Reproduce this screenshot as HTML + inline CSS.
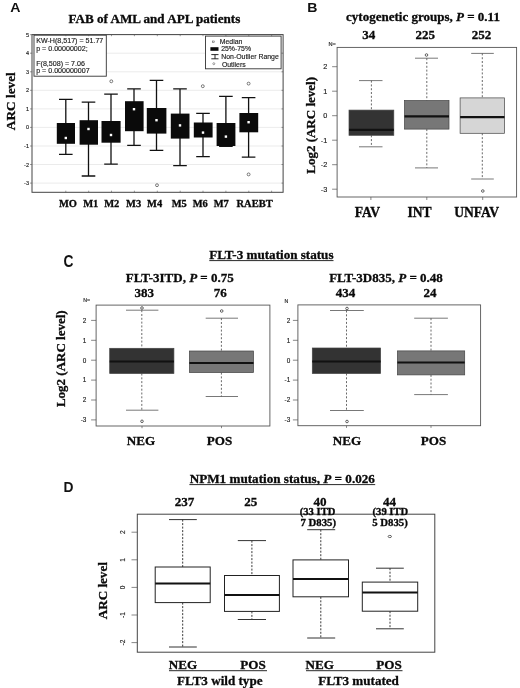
<!DOCTYPE html>
<html><head><meta charset="utf-8"><title>Figure</title>
<style>
html,body{margin:0;padding:0;background:#fff;}
svg{display:block;filter:blur(0.35px)}
.s{font-family:"Liberation Serif",serif;font-weight:bold;fill:#0a0a0a;stroke:#0a0a0a;stroke-width:0.3px}
.a{font-family:"Liberation Sans",sans-serif;fill:#1c1c1c;stroke:#1c1c1c;stroke-width:0.15px}
.ab{font-family:"Liberation Sans",sans-serif;font-weight:bold;fill:#111}
</style></head><body>
<svg width="520" height="688" viewBox="0 0 520 688">
<rect width="520" height="688" fill="#fff"/>

<g id="panelA">
<text class="ab" transform="translate(10.3,11.9) scale(1.15,1)" font-size="12.3">A</text>
<text class="s" x="154.4" y="23.2" font-size="13.1" text-anchor="middle">FAB of AML and APL patients</text>
<text class="s" transform="translate(14.8,101.2) rotate(-90)" font-size="13.3" text-anchor="middle">ARC level</text>
<line x1="32" x2="283.1" y1="183.1" y2="183.1" stroke="#ddd" stroke-width="0.6"/>
<line x1="32" x2="283.1" y1="164.5" y2="164.5" stroke="#ddd" stroke-width="0.6"/>
<line x1="32" x2="283.1" y1="146.0" y2="146.0" stroke="#ddd" stroke-width="0.6"/>
<line x1="32" x2="283.1" y1="127.4" y2="127.4" stroke="#ddd" stroke-width="0.6"/>
<line x1="32" x2="283.1" y1="108.9" y2="108.9" stroke="#ddd" stroke-width="0.6"/>
<line x1="32" x2="283.1" y1="90.3" y2="90.3" stroke="#ddd" stroke-width="0.6"/>
<line x1="32" x2="283.1" y1="71.8" y2="71.8" stroke="#ddd" stroke-width="0.6"/>
<line x1="32" x2="283.1" y1="53.2" y2="53.2" stroke="#ddd" stroke-width="0.6"/>
<line x1="32" x2="283.1" y1="34.7" y2="34.7" stroke="#ddd" stroke-width="0.6"/>
<rect x="32" y="34.6" width="251.10000000000002" height="157.70000000000002" fill="none" stroke="#444" stroke-width="1"/>
<line x1="30" x2="32" y1="183.1" y2="183.1" stroke="#555" stroke-width="0.6"/>
<text class="a" x="29" y="185.1" font-size="5.5" text-anchor="end">-3</text>
<line x1="30" x2="32" y1="164.5" y2="164.5" stroke="#555" stroke-width="0.6"/>
<text class="a" x="29" y="166.5" font-size="5.5" text-anchor="end">-2</text>
<line x1="30" x2="32" y1="146.0" y2="146.0" stroke="#555" stroke-width="0.6"/>
<text class="a" x="29" y="148.0" font-size="5.5" text-anchor="end">-1</text>
<line x1="30" x2="32" y1="127.4" y2="127.4" stroke="#555" stroke-width="0.6"/>
<text class="a" x="29" y="129.4" font-size="5.5" text-anchor="end">0</text>
<line x1="30" x2="32" y1="108.9" y2="108.9" stroke="#555" stroke-width="0.6"/>
<text class="a" x="29" y="110.9" font-size="5.5" text-anchor="end">1</text>
<line x1="30" x2="32" y1="90.3" y2="90.3" stroke="#555" stroke-width="0.6"/>
<text class="a" x="29" y="92.3" font-size="5.5" text-anchor="end">2</text>
<line x1="30" x2="32" y1="71.8" y2="71.8" stroke="#555" stroke-width="0.6"/>
<text class="a" x="29" y="73.8" font-size="5.5" text-anchor="end">3</text>
<line x1="30" x2="32" y1="53.2" y2="53.2" stroke="#555" stroke-width="0.6"/>
<text class="a" x="29" y="55.2" font-size="5.5" text-anchor="end">4</text>
<line x1="30" x2="32" y1="34.7" y2="34.7" stroke="#555" stroke-width="0.6"/>
<text class="a" x="29" y="36.7" font-size="5.5" text-anchor="end">5</text>
<path d="M65.8 99.4V154.4M59.0 99.4H72.6M59.0 154.4H72.6" stroke="#111" stroke-width="1.3" fill="none"/>
<rect x="56.8" y="123" width="18.2" height="20.8" fill="#0a0a0a"/>
<rect x="64.6" y="136.8" width="2.4" height="2.4" fill="#fff"/>
<path d="M88.5 102.2V176.0M81.7 102.2H95.3M81.7 176.0H95.3" stroke="#111" stroke-width="1.3" fill="none"/>
<rect x="79.6" y="120.2" width="18.4" height="24.5" fill="#0a0a0a"/>
<rect x="87.3" y="127.8" width="2.4" height="2.4" fill="#fff"/>
<path d="M111 94.10000000000001V164.1M104.2 94.10000000000001H117.8M104.2 164.1H117.8" stroke="#111" stroke-width="1.3" fill="none"/>
<rect x="101.5" y="121" width="19.1" height="21.7" fill="#0a0a0a"/>
<rect x="109.8" y="133.8" width="2.4" height="2.4" fill="#fff"/>
<circle cx="111.3" cy="81.3" r="1.45" fill="#fff" stroke="#444" stroke-width="0.7"/>
<path d="M134 88.9V145.4M127.2 88.9H140.8M127.2 145.4H140.8" stroke="#111" stroke-width="1.3" fill="none"/>
<rect x="125" y="101.2" width="18.6" height="30.0" fill="#0a0a0a"/>
<rect x="132.8" y="108.0" width="2.4" height="2.4" fill="#fff"/>
<path d="M156.5 80.4V150.4M149.7 80.4H163.3M149.7 150.4H163.3" stroke="#111" stroke-width="1.3" fill="none"/>
<rect x="146.8" y="108" width="19.6" height="25.6" fill="#0a0a0a"/>
<rect x="155.3" y="119.0" width="2.4" height="2.4" fill="#fff"/>
<circle cx="157" cy="185.2" r="1.45" fill="#fff" stroke="#444" stroke-width="0.7"/>
<path d="M180 88.9V165.6M173.2 88.9H186.8M173.2 165.6H186.8" stroke="#111" stroke-width="1.3" fill="none"/>
<rect x="170.8" y="113.6" width="18.7" height="25.0" fill="#0a0a0a"/>
<rect x="178.8" y="124.2" width="2.4" height="2.4" fill="#fff"/>
<path d="M203 113.4V156.6M196.2 113.4H209.8M196.2 156.6H209.8" stroke="#111" stroke-width="1.3" fill="none"/>
<rect x="193.8" y="122.5" width="18.8" height="15.0" fill="#0a0a0a"/>
<rect x="201.8" y="131.4" width="2.4" height="2.4" fill="#fff"/>
<circle cx="202.8" cy="86.2" r="1.45" fill="#fff" stroke="#444" stroke-width="0.7"/>
<path d="M225.9 96.4V146.4M219.1 96.4H232.70000000000002M219.1 146.4H232.70000000000002" stroke="#111" stroke-width="1.3" fill="none"/>
<rect x="216.6" y="123" width="18.8" height="23.0" fill="#0a0a0a"/>
<rect x="224.70000000000002" y="135.4" width="2.4" height="2.4" fill="#fff"/>
<path d="M248.6 97.60000000000001V157.20000000000002M241.79999999999998 97.60000000000001H255.4M241.79999999999998 157.20000000000002H255.4" stroke="#111" stroke-width="1.3" fill="none"/>
<rect x="239.4" y="113" width="18.8" height="19.3" fill="#0a0a0a"/>
<rect x="247.4" y="121.0" width="2.4" height="2.4" fill="#fff"/>
<circle cx="248.6" cy="83.6" r="1.45" fill="#fff" stroke="#444" stroke-width="0.7"/>
<circle cx="248.6" cy="174.4" r="1.45" fill="#fff" stroke="#444" stroke-width="0.7"/>
<text class="s" x="68" y="206.5" font-size="10.5" text-anchor="middle">MO</text>
<text class="s" x="90.8" y="206.5" font-size="10.5" text-anchor="middle">M1</text>
<text class="s" x="111.8" y="206.5" font-size="10.5" text-anchor="middle">M2</text>
<text class="s" x="133.6" y="206.5" font-size="10.5" text-anchor="middle">M3</text>
<text class="s" x="154.6" y="206.5" font-size="10.5" text-anchor="middle">M4</text>
<text class="s" x="179.3" y="206.5" font-size="10.5" text-anchor="middle">M5</text>
<text class="s" x="200.3" y="206.5" font-size="10.5" text-anchor="middle">M6</text>
<text class="s" x="221.3" y="206.5" font-size="10.5" text-anchor="middle">M7</text>
<text class="s" x="254.6" y="206.5" font-size="10.5" text-anchor="middle">RAEBT</text>
<rect x="34" y="35.2" width="72.3" height="41" fill="#fff" stroke="#333" stroke-width="0.9"/>
<text class="a" x="36.2" y="43.2" font-size="7.1">KW-H(8,517) = 51.77</text>
<text class="a" x="36.2" y="51.4" font-size="7.1">p = 0.00000002;</text>
<text class="a" x="36.2" y="66.4" font-size="7.1">F(8,508) = 7.06</text>
<text class="a" x="36.2" y="73.3" font-size="7.1">p = 0.000000007</text>
<rect x="205.5" y="36.1" width="75.6" height="32.7" fill="#fff" stroke="#333" stroke-width="0.9"/>
<rect x="212.5" y="41" width="1.7" height="1.7" fill="#fff" stroke="#444" stroke-width="0.5"/>
<rect x="210.4" y="47.2" width="8.1" height="3.6" fill="#0a0a0a"/>
<path d="M215 54.6V58.8M211.3 54.6H218.5M211.3 58.8H218.5" stroke="#111" stroke-width="0.9" fill="none"/>
<circle cx="213.8" cy="63.7" r="1" fill="#fff" stroke="#444" stroke-width="0.5"/>
<text class="a" x="219.8" y="43.9" font-size="6.9">Median</text>
<text class="a" x="221.2" y="51.2" font-size="6.9">25%-75%</text>
<text class="a" x="221.3" y="59.3" font-size="6.9">Non-Outlier Range</text>
<text class="a" x="221.9" y="66.6" font-size="6.9">Outliers</text>
<path d="M65.8 34.6v1.6M65.8 192.3v-1.6" stroke="#555" stroke-width="0.6"/>
<path d="M88.7 34.6v1.6M88.7 192.3v-1.6" stroke="#555" stroke-width="0.6"/>
<path d="M111.5 34.6v1.6M111.5 192.3v-1.6" stroke="#555" stroke-width="0.6"/>
<path d="M134.4 34.6v1.6M134.4 192.3v-1.6" stroke="#555" stroke-width="0.6"/>
<path d="M157.3 34.6v1.6M157.3 192.3v-1.6" stroke="#555" stroke-width="0.6"/>
<path d="M180.2 34.6v1.6M180.2 192.3v-1.6" stroke="#555" stroke-width="0.6"/>
<path d="M203.0 34.6v1.6M203.0 192.3v-1.6" stroke="#555" stroke-width="0.6"/>
<path d="M225.9 34.6v1.6M225.9 192.3v-1.6" stroke="#555" stroke-width="0.6"/>
<path d="M248.8 34.6v1.6M248.8 192.3v-1.6" stroke="#555" stroke-width="0.6"/>
<path d="M271.6 34.6v1.6M271.6 192.3v-1.6" stroke="#555" stroke-width="0.6"/>
<line x1="281.5" x2="283.1" y1="183.1" y2="183.1" stroke="#555" stroke-width="0.6"/>
<line x1="281.5" x2="283.1" y1="164.5" y2="164.5" stroke="#555" stroke-width="0.6"/>
<line x1="281.5" x2="283.1" y1="146.0" y2="146.0" stroke="#555" stroke-width="0.6"/>
<line x1="281.5" x2="283.1" y1="127.4" y2="127.4" stroke="#555" stroke-width="0.6"/>
<line x1="281.5" x2="283.1" y1="108.9" y2="108.9" stroke="#555" stroke-width="0.6"/>
<line x1="281.5" x2="283.1" y1="90.3" y2="90.3" stroke="#555" stroke-width="0.6"/>
<line x1="281.5" x2="283.1" y1="71.8" y2="71.8" stroke="#555" stroke-width="0.6"/>
<line x1="281.5" x2="283.1" y1="53.2" y2="53.2" stroke="#555" stroke-width="0.6"/>
</g>
<g id="panelB">
<text class="ab" transform="translate(307.2,11.6) scale(1.13,1)" font-size="12.5">B</text>
<text class="s" x="423" y="21.2" font-size="13" text-anchor="middle">cytogenetic groups, <tspan font-style="italic">P</tspan> = 0.11</text>
<text class="s" x="368.8" y="39.4" font-size="13" text-anchor="middle">34</text>
<text class="s" x="425.3" y="39.4" font-size="13" text-anchor="middle">225</text>
<text class="s" x="481.4" y="39.4" font-size="13" text-anchor="middle">252</text>
<text class="a" x="328.4" y="45.6" font-size="5.6" fill="#333">N=</text>
<text class="s" transform="translate(315.3,125.4) rotate(-90)" font-size="13" text-anchor="middle">Log2 (ARC level)</text>
<rect x="337.1" y="47.4" width="179.5" height="149.6" fill="#fff" stroke="#555" stroke-width="0.9"/>
<line x1="332.1" x2="337.1" y1="189.2" y2="189.2" stroke="#555" stroke-width="0.7"/>
<text class="a" x="327.3" y="191.8" font-size="7.3" text-anchor="end">-3</text>
<line x1="332.1" x2="337.1" y1="164.7" y2="164.7" stroke="#555" stroke-width="0.7"/>
<text class="a" x="327.3" y="167.3" font-size="7.3" text-anchor="end">-2</text>
<line x1="332.1" x2="337.1" y1="140.2" y2="140.2" stroke="#555" stroke-width="0.7"/>
<text class="a" x="327.3" y="142.8" font-size="7.3" text-anchor="end">-1</text>
<line x1="332.1" x2="337.1" y1="115.7" y2="115.7" stroke="#555" stroke-width="0.7"/>
<text class="a" x="327.3" y="118.3" font-size="7.3" text-anchor="end">0</text>
<line x1="332.1" x2="337.1" y1="91.2" y2="91.2" stroke="#555" stroke-width="0.7"/>
<text class="a" x="327.3" y="93.8" font-size="7.3" text-anchor="end">1</text>
<line x1="332.1" x2="337.1" y1="66.7" y2="66.7" stroke="#555" stroke-width="0.7"/>
<text class="a" x="327.3" y="69.3" font-size="7.3" text-anchor="end">2</text>
<path d="M371.4 80.6V110.1M371.4 135.3V146.8" stroke="#444" stroke-width="0.8" stroke-dasharray="2 1.8" fill="none"/><path d="M359 80.6H382.5M359 146.8H382.5" stroke="#555" stroke-width="0.8" fill="none"/><rect x="349" y="110.1" width="44.8" height="25.2" fill="#333" stroke="#444" stroke-width="0.7"/><line x1="349" x2="393.8" y1="129.9" y2="129.9" stroke="#111" stroke-width="2.3"/>
<path d="M426.8 58.2V100.5M426.8 129.1V167.9" stroke="#444" stroke-width="0.8" stroke-dasharray="2 1.8" fill="none"/><path d="M415 58.2H438M415 167.9H438" stroke="#555" stroke-width="0.8" fill="none"/><rect x="404.5" y="100.5" width="44.5" height="28.6" fill="#777" stroke="#444" stroke-width="0.7"/><line x1="404.5" x2="449" y1="116.3" y2="116.3" stroke="#111" stroke-width="2.3"/><ellipse cx="426.5" cy="55" rx="1.3" ry="1.3" fill="#fff" stroke="#333" stroke-width="0.75"/>
<path d="M482.3 53.4V97.9M482.3 133.3V179" stroke="#444" stroke-width="0.8" stroke-dasharray="2 1.8" fill="none"/><path d="M471.2 53.4H493.8M471.2 179H493.8" stroke="#555" stroke-width="0.8" fill="none"/><rect x="460.1" y="97.9" width="44.4" height="35.4" fill="#d6d6d6" stroke="#444" stroke-width="0.7"/><line x1="460.1" x2="504.5" y1="117.2" y2="117.2" stroke="#111" stroke-width="2.3"/><ellipse cx="482.8" cy="191" rx="1.3" ry="1.3" fill="#fff" stroke="#333" stroke-width="0.75"/>
<path d="M370.9 197v3M426.8 197v3M482.7 197v3" stroke="#555" stroke-width="0.7"/>
<text class="s" x="367.4" y="217.2" font-size="13.6" text-anchor="middle">FAV</text>
<text class="s" x="419.6" y="217.2" font-size="13.6" text-anchor="middle">INT</text>
<text class="s" x="476.6" y="217.2" font-size="13.6" text-anchor="middle">UNFAV</text>
</g>
<g id="panelC">
<text class="ab" transform="translate(63.5,266.8) scale(1,1.14)" font-size="13.8">C</text>
<text class="s" x="271.4" y="259" font-size="13.1" text-anchor="middle">FLT-3 mutation status</text>
<line x1="209.3" x2="333.5" y1="260.6" y2="260.6" stroke="#111" stroke-width="0.9"/>
<text class="s" x="179.8" y="281.7" font-size="13" text-anchor="middle">FLT-3ITD, <tspan font-style="italic">P</tspan> = 0.75</text>
<text class="s" x="144.2" y="296.9" font-size="13" text-anchor="middle">383</text>
<text class="s" x="220.3" y="296.9" font-size="13" text-anchor="middle">76</text>
<text class="a" x="83.2" y="302.3" font-size="5.3" fill="#333">N=</text>
<text class="s" transform="translate(64.5,358.7) rotate(-90)" font-size="13" text-anchor="middle">Log2 (ARC level)</text>
<rect x="96.1" y="305.1" width="173.8" height="120.9" fill="#fff" stroke="#555" stroke-width="0.9"/>
<line x1="91.1" x2="96.1" y1="419.9" y2="419.9" stroke="#555" stroke-width="0.7"/>
<text class="a" x="86.39999999999999" y="422.2" font-size="6.4" text-anchor="end">-3</text>
<line x1="91.1" x2="96.1" y1="400.0" y2="400.0" stroke="#555" stroke-width="0.7"/>
<text class="a" x="86.39999999999999" y="402.3" font-size="6.4" text-anchor="end">2</text>
<line x1="91.1" x2="96.1" y1="380.1" y2="380.1" stroke="#555" stroke-width="0.7"/>
<text class="a" x="86.39999999999999" y="382.4" font-size="6.4" text-anchor="end">1</text>
<line x1="91.1" x2="96.1" y1="360.2" y2="360.2" stroke="#555" stroke-width="0.7"/>
<text class="a" x="86.39999999999999" y="362.5" font-size="6.4" text-anchor="end">0</text>
<line x1="91.1" x2="96.1" y1="340.3" y2="340.3" stroke="#555" stroke-width="0.7"/>
<text class="a" x="86.39999999999999" y="342.6" font-size="6.4" text-anchor="end">1</text>
<line x1="91.1" x2="96.1" y1="320.4" y2="320.4" stroke="#555" stroke-width="0.7"/>
<text class="a" x="86.39999999999999" y="322.7" font-size="6.4" text-anchor="end">2</text>
<path d="M141.8 310.2V348.3M141.8 373.5V410.2" stroke="#444" stroke-width="0.8" stroke-dasharray="2 1.8" fill="none"/><path d="M126 310.2H158.4M126 410.2H158.4" stroke="#555" stroke-width="0.8" fill="none"/><rect x="109.7" y="348.3" width="64.2" height="25.2" fill="#333" stroke="#444" stroke-width="0.7"/><line x1="109.7" x2="173.9" y1="361.5" y2="361.5" stroke="#111" stroke-width="2"/><ellipse cx="142" cy="308" rx="1.3" ry="1.3" fill="#fff" stroke="#333" stroke-width="0.75"/><ellipse cx="142" cy="421.3" rx="1.3" ry="1.3" fill="#fff" stroke="#333" stroke-width="0.75"/>
<path d="M221.4 318.2V351M221.4 372.6V396.5" stroke="#444" stroke-width="0.8" stroke-dasharray="2 1.8" fill="none"/><path d="M205.7 318.2H238M205.7 396.5H238" stroke="#555" stroke-width="0.8" fill="none"/><rect x="189.4" y="351" width="64.1" height="21.6" fill="#777" stroke="#444" stroke-width="0.7"/><line x1="189.4" x2="253.5" y1="362.9" y2="362.9" stroke="#111" stroke-width="2"/><ellipse cx="221.7" cy="311" rx="1.3" ry="1.3" fill="#fff" stroke="#333" stroke-width="0.75"/>
<path d="M142 426v2.2M221.5 426v2.2" stroke="#555" stroke-width="0.7"/>
<text class="s" x="140.9" y="444.5" font-size="13.1" text-anchor="middle">NEG</text>
<text class="s" x="219.6" y="444.5" font-size="13.1" text-anchor="middle">POS</text>
<text class="s" x="386" y="281.5" font-size="13" text-anchor="middle">FLT-3D835, <tspan font-style="italic">P</tspan> = 0.48</text>
<text class="s" x="345.5" y="297.3" font-size="13" text-anchor="middle">434</text>
<text class="s" x="430" y="297.3" font-size="13" text-anchor="middle">24</text>
<text class="a" x="284.5" y="302.8" font-size="5.3" fill="#333">N</text>
<rect x="297.9" y="304.9" width="182.7" height="120.8" fill="#fff" stroke="#555" stroke-width="0.9"/>
<line x1="292.9" x2="297.9" y1="419.9" y2="419.9" stroke="#555" stroke-width="0.7"/>
<text class="a" x="290.2" y="422.2" font-size="6.4" text-anchor="end">-3</text>
<line x1="292.9" x2="297.9" y1="400.0" y2="400.0" stroke="#555" stroke-width="0.7"/>
<text class="a" x="290.2" y="402.3" font-size="6.4" text-anchor="end">-2</text>
<line x1="292.9" x2="297.9" y1="380.1" y2="380.1" stroke="#555" stroke-width="0.7"/>
<text class="a" x="290.2" y="382.4" font-size="6.4" text-anchor="end">-1</text>
<line x1="292.9" x2="297.9" y1="360.2" y2="360.2" stroke="#555" stroke-width="0.7"/>
<text class="a" x="290.2" y="362.5" font-size="6.4" text-anchor="end">0</text>
<line x1="292.9" x2="297.9" y1="340.3" y2="340.3" stroke="#555" stroke-width="0.7"/>
<text class="a" x="290.2" y="342.6" font-size="6.4" text-anchor="end">1</text>
<line x1="292.9" x2="297.9" y1="320.4" y2="320.4" stroke="#555" stroke-width="0.7"/>
<text class="a" x="290.2" y="322.7" font-size="6.4" text-anchor="end">2</text>
<path d="M346.5 310.5V348M346.5 373.5V410.5" stroke="#444" stroke-width="0.8" stroke-dasharray="2 1.8" fill="none"/><path d="M330 310.5H363.8M330 410.5H363.8" stroke="#555" stroke-width="0.8" fill="none"/><rect x="312.3" y="348" width="68.3" height="25.5" fill="#333" stroke="#444" stroke-width="0.7"/><line x1="312.3" x2="380.6" y1="361.4" y2="361.4" stroke="#111" stroke-width="2"/><ellipse cx="347" cy="308.5" rx="1.3" ry="1.3" fill="#fff" stroke="#333" stroke-width="0.75"/><ellipse cx="347" cy="421.5" rx="1.3" ry="1.3" fill="#fff" stroke="#333" stroke-width="0.75"/>
<path d="M431.0 318.2V350.9M431.0 374.9V394.6" stroke="#444" stroke-width="0.8" stroke-dasharray="2 1.8" fill="none"/><path d="M414.2 318.2H447.9M414.2 394.6H447.9" stroke="#555" stroke-width="0.8" fill="none"/><rect x="397.4" y="350.9" width="67.3" height="24.0" fill="#777" stroke="#444" stroke-width="0.7"/><line x1="397.4" x2="464.7" y1="362.4" y2="362.4" stroke="#111" stroke-width="2"/>
<path d="M346.5 425.7v2.2M431 425.7v2.2" stroke="#555" stroke-width="0.7"/>
<text class="s" x="347" y="444.5" font-size="13.1" text-anchor="middle">NEG</text>
<text class="s" x="433.5" y="444.5" font-size="13.1" text-anchor="middle">POS</text>
</g>
<g id="panelD">
<text class="ab" transform="translate(63.4,492.4) scale(1,1.06)" font-size="13.8">D</text>
<text class="s" x="282.3" y="483.3" font-size="13.15" text-anchor="middle">NPM1 mutation status, <tspan font-style="italic">P</tspan> = 0.026</text>
<line x1="189.4" x2="375.2" y1="484.6" y2="484.6" stroke="#111" stroke-width="0.9"/>
<rect x="137.3" y="514.2" width="297.5" height="138.0" fill="#fff" stroke="#444" stroke-width="1"/>
<line x1="131.5" x2="137.3" y1="642.6" y2="642.6" stroke="#555" stroke-width="0.7"/>
<text class="a" transform="translate(124.50000000000001,642.6) rotate(-90)" font-size="6.6" text-anchor="middle">-2</text>
<line x1="131.5" x2="137.3" y1="615.0" y2="615.0" stroke="#555" stroke-width="0.7"/>
<text class="a" transform="translate(124.50000000000001,615.0) rotate(-90)" font-size="6.6" text-anchor="middle">-1</text>
<line x1="131.5" x2="137.3" y1="587.4" y2="587.4" stroke="#555" stroke-width="0.7"/>
<text class="a" transform="translate(124.50000000000001,587.4) rotate(-90)" font-size="6.6" text-anchor="middle">0</text>
<line x1="131.5" x2="137.3" y1="559.8" y2="559.8" stroke="#555" stroke-width="0.7"/>
<text class="a" transform="translate(124.50000000000001,559.8) rotate(-90)" font-size="6.6" text-anchor="middle">1</text>
<line x1="131.5" x2="137.3" y1="532.2" y2="532.2" stroke="#555" stroke-width="0.7"/>
<text class="a" transform="translate(124.50000000000001,532.2) rotate(-90)" font-size="6.6" text-anchor="middle">2</text>
<path d="M182.7 519.6V567M182.7 602.6V647" stroke="#222" stroke-width="0.9" stroke-dasharray="2 1.5" fill="none"/><path d="M169 519.6H196.8M169 647H196.8" stroke="#333" stroke-width="1.0" fill="none"/><rect x="155.2" y="567" width="55.0" height="35.6" fill="#fff" stroke="#222" stroke-width="1.0"/><line x1="155.2" x2="210.2" y1="583.5" y2="583.5" stroke="#111" stroke-width="2"/>
<path d="M251.9 540.6V575.5M251.9 611.4V619.5" stroke="#222" stroke-width="0.9" stroke-dasharray="2 1.5" fill="none"/><path d="M237.8 540.6H266M237.8 619.5H266" stroke="#333" stroke-width="1.0" fill="none"/><rect x="224.5" y="575.5" width="54.9" height="35.9" fill="#fff" stroke="#222" stroke-width="1.0"/><line x1="224.5" x2="279.4" y1="595" y2="595" stroke="#111" stroke-width="2"/>
<path d="M320.8 529.7V559.9M320.8 596.8V638" stroke="#222" stroke-width="0.9" stroke-dasharray="2 1.5" fill="none"/><path d="M307.2 529.7H335.2M307.2 638H335.2" stroke="#333" stroke-width="1.0" fill="none"/><rect x="293" y="559.9" width="55.5" height="36.9" fill="#fff" stroke="#222" stroke-width="1.0"/><line x1="293" x2="348.5" y1="579" y2="579" stroke="#111" stroke-width="2"/>
<path d="M390.0 568.2V582.1M390.0 611.2V628.8" stroke="#222" stroke-width="0.9" stroke-dasharray="2 1.5" fill="none"/><path d="M376 568.2H403.8M376 628.8H403.8" stroke="#333" stroke-width="1.0" fill="none"/><rect x="362.3" y="582.1" width="55.4" height="29.1" fill="#fff" stroke="#222" stroke-width="1.0"/><line x1="362.3" x2="417.7" y1="592.5" y2="592.5" stroke="#111" stroke-width="2"/><ellipse cx="389.8" cy="536.5" rx="1.7" ry="1.1" fill="#fff" stroke="#333" stroke-width="0.75"/>
<text class="s" x="184.6" y="506.3" font-size="13.1" text-anchor="middle">237</text>
<text class="s" x="250.8" y="506.3" font-size="13.1" text-anchor="middle">25</text>
<text class="s" x="320" y="505.6" font-size="13.1" text-anchor="middle">40</text>
<text class="s" x="389.6" y="505.6" font-size="13.1" text-anchor="middle">44</text>
<text class="s" x="317.6" y="515.3" font-size="9.6" text-anchor="middle" textLength="35.6" lengthAdjust="spacingAndGlyphs">(33 ITD</text>
<text class="s" x="318.2" y="526" font-size="9.6" text-anchor="middle" textLength="35.6" lengthAdjust="spacingAndGlyphs">7 D835)</text>
<text class="s" x="390.4" y="515.3" font-size="9.6" text-anchor="middle" textLength="35.6" lengthAdjust="spacingAndGlyphs">(39 ITD</text>
<text class="s" x="390" y="526" font-size="9.6" text-anchor="middle" textLength="35.6" lengthAdjust="spacingAndGlyphs">5 D835)</text>
<text class="s" transform="translate(107.2,590.7) rotate(-90)" font-size="13.1" text-anchor="middle">ARC level</text>
<text class="s" x="183" y="669" font-size="13.1" text-anchor="middle">NEG</text>
<text class="s" x="253" y="669" font-size="13.1" text-anchor="middle">POS</text>
<text class="s" x="319.8" y="669" font-size="13.1" text-anchor="middle">NEG</text>
<text class="s" x="389" y="669" font-size="13.1" text-anchor="middle">POS</text>
<line x1="169" x2="267" y1="670.7" y2="670.7" stroke="#111" stroke-width="0.9"/>
<line x1="306" x2="402.5" y1="670.7" y2="670.7" stroke="#111" stroke-width="0.9"/>
<text class="s" x="219.8" y="685.4" font-size="13.1" text-anchor="middle">FLT3 wild type</text>
<text class="s" x="358.6" y="685.4" font-size="13.1" text-anchor="middle">FLT3 mutated</text>
</g>
</svg></body></html>
